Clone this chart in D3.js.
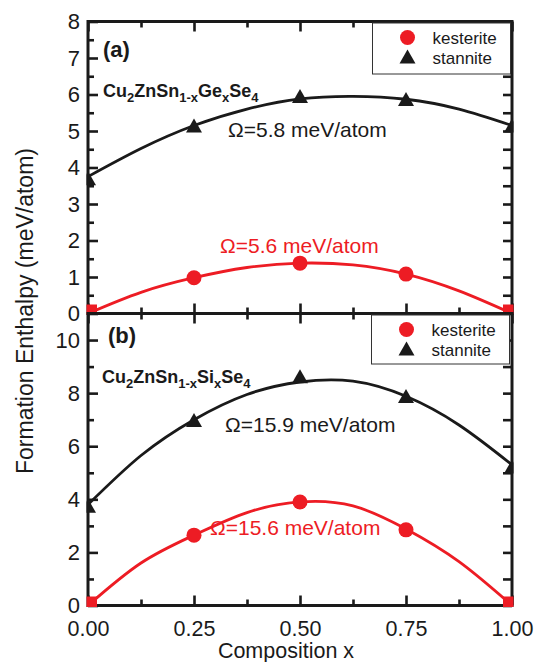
<!DOCTYPE html>
<html><head><meta charset="utf-8">
<script src="https://cdn.jsdelivr.net/npm/d3@7"></script>
<style>
html,body{margin:0;padding:0;background:#fff;}
svg{display:block;font-family:"Liberation Sans",Arial,Helvetica,sans-serif;}
</style></head>
<body>
<svg id="chart" width="542" height="662"></svg>
<script>
// ---- data ----
const compX = [0, 0.25, 0.5, 0.75, 1];
const geKesterite = [0, 0.98, 1.38, 1.08, 0];
const geStannite = [3.68, 5.12, 5.93, 5.85, 5.12];
const siKesterite = [0, 2.65, 3.9, 2.85, 0];
const siStannite = [3.72, 6.95, 8.6, 7.85, 5.2];

const fitX = [0, 0.125, 0.25, 0.375, 0.5, 0.625, 0.75, 0.875, 1];
const geKesteriteFit = [0, 0.58, 0.98, 1.26, 1.38, 1.33, 1.08, 0.62, 0];
const geStanniteFit = [3.75, 4.52, 5.15, 5.6, 5.88, 5.95, 5.87, 5.6, 5.15];
const siKesteriteFit = [0, 1.6, 2.65, 3.5, 3.9, 3.75, 2.88, 1.65, 0];
const siStanniteFit = [3.8, 5.65, 7.0, 7.95, 8.42, 8.45, 7.88, 6.8, 5.3];

const xMajorTicks = [0, 0.25, 0.5, 0.75, 1];
const xTickLabels = ["0.00", "0.25", "0.50", "0.75", "1.00"];
const xMinorTicks = [0.125, 0.375, 0.625, 0.875];
const topYMajor = [0, 1, 2, 3, 4, 5, 6, 7, 8];
const topYMinor = [0.5, 1.5, 2.5, 3.5, 4.5, 5.5, 6.5, 7.5];
const botYMajor = [0, 2, 4, 6, 8, 10];
const botYMinor = [1, 3, 5, 7, 9];

const seriesNames = ["kesterite", "stannite"];
const omegaGe = ["Ω=5.6 meV/atom", "Ω=5.8 meV/atom"];
const omegaSi = ["Ω=15.6 meV/atom", "Ω=15.9 meV/atom"];

// ---- layout ----
const RED = "#ed1c24", BLK = "#1a1a1a";
const svg = d3.select("#chart");
const x = d3.scaleLinear().domain([0, 1]).range([88, 512]);
const yTop = d3.scaleLinear().domain([0, 8]).range([313.5, 21.5]);
const yBot = d3.scaleLinear().domain([0, 11]).range([605.5, 313.5]);

const triPath = "M0,-8L8,6L-8,6Z";

function panel(id, y, kes, sta, kesFit, staFit, yMajor, yMinor, showX, omegas, omegaPos, formula, formulaPos, tag, tagPos, legendBox) {
  const g = svg.append("g");
  const [y0, y1] = y.range();
  const clipId = "clip" + id;
  svg.append("clipPath").attr("id", clipId).append("rect")
    .attr("x", x(0) - 1.5).attr("y", y1 - 1.5).attr("width", x(1) - x(0) + 3).attr("height", y0 - y1 + 3);

  // axes
  const tickStyle = sel => {
    sel.select(".domain").remove();
    sel.selectAll(".tick line").attr("stroke", BLK).attr("stroke-width", 2.6);
    sel.selectAll(".tick text").attr("fill", BLK).attr("font-family", '"Liberation Sans",Arial,sans-serif');
  };
  g.append("g").attr("transform", `translate(${x(0)},0)`)
    .call(d3.axisLeft(y).tickValues(yMajor).tickSize(-10).tickPadding(8).tickFormat(d3.format("d")))
    .call(tickStyle).selectAll(".tick text").attr("font-size", 22);
  g.append("g").attr("transform", `translate(${x(0)},0)`)
    .call(d3.axisLeft(y).tickValues(yMinor).tickSize(-6).tickFormat(""))
    .call(tickStyle);
  g.append("g").attr("transform", `translate(${x(1)},0)`)
    .call(d3.axisRight(y).tickValues(yMajor).tickSize(-9).tickFormat(""))
    .call(tickStyle);
  g.append("g").attr("transform", `translate(${x(1)},0)`)
    .call(d3.axisRight(y).tickValues(yMinor).tickSize(-9).tickFormat(""))
    .call(tickStyle);
  g.append("g").attr("transform", `translate(0,${y1})`)
    .call(d3.axisTop(x).tickValues(xMajorTicks).tickSize(-10).tickFormat(""))
    .call(tickStyle);
  g.append("g").attr("transform", `translate(0,${y1})`)
    .call(d3.axisTop(x).tickValues(xMinorTicks).tickSize(-6).tickFormat(""))
    .call(tickStyle);
  const bx = g.append("g").attr("transform", `translate(0,${y0})`)
    .call(d3.axisBottom(x).tickValues(xMajorTicks).tickSize(-10).tickPadding(15)
      .tickFormat((d, i) => showX ? xTickLabels[i] : ""))
    .call(tickStyle);
  bx.selectAll(".tick text").attr("font-size", 21.5);
  g.append("g").attr("transform", `translate(0,${y0})`)
    .call(d3.axisBottom(x).tickValues(xMinorTicks).tickSize(-6).tickFormat(""))
    .call(tickStyle);

  // frame
  g.append("rect").attr("x", x(0)).attr("y", y1).attr("width", x(1) - x(0)).attr("height", y0 - y1)
    .attr("fill", "none").attr("stroke", BLK).attr("stroke-width", 3);

  // curves and markers (over the frame, clipped to its outer edge)
  const plot = g.append("g").attr("clip-path", `url(#${clipId})`);
  const line = d3.line().x(d => x(d[0])).y(d => y(d[1])).curve(d3.curveNatural);
  plot.append("path").datum(fitX.map((v, i) => [v, staFit[i]]))
    .attr("d", line).attr("fill", "none").attr("stroke", BLK).attr("stroke-width", 2.8);
  plot.append("path").datum(fitX.map((v, i) => [v, kesFit[i]]))
    .attr("d", line).attr("fill", "none").attr("stroke", RED).attr("stroke-width", 2.8);

  plot.selectAll(".tri").data(compX.map((v, i) => [v, sta[i]])).join("path")
    .attr("d", triPath).attr("fill", BLK)
    .attr("transform", d => `translate(${x(d[0])},${y(d[1])})`);
  plot.selectAll(".kes").data(compX.map((v, i) => [v, kes[i]])).join(enter => enter.append(d => {
      const end = d[0] === 0 || d[0] === 1;
      return document.createElementNS("http://www.w3.org/2000/svg", end ? "rect" : "circle");
    }))
    .each(function(d) {
      const s = d3.select(this);
      if (this.tagName === "rect") {
        s.attr("x", x(d[0]) - 9).attr("y", y(d[1]) - 9).attr("width", 18).attr("height", 18);
      } else {
        s.attr("cx", x(d[0])).attr("cy", y(d[1])).attr("r", 7.5);
      }
    })
    .attr("fill", RED);

  // legend
  const lg = g.append("g");
  lg.append("rect").attr("x", legendBox[0]).attr("y", legendBox[1]).attr("width", legendBox[2]).attr("height", legendBox[3])
    .attr("fill", "#fff").attr("stroke", "#333").attr("stroke-width", 1);
  const lx = legendBox[0] + 35;
  const ly = legendBox[1] + 14.5;
  lg.append("circle").attr("cx", lx).attr("cy", ly).attr("r", 7.5).attr("fill", RED);
  lg.append("path").attr("d", triPath).attr("fill", BLK).attr("transform", `translate(${lx},${ly + 20})`);
  seriesNames.forEach((n, i) => {
    lg.append("text").attr("x", lx + 25).attr("y", ly + 6 + 20 * i).attr("font-size", 17).attr("fill", BLK).text(n);
  });

  // omega labels
  g.append("text").attr("x", omegaPos[0][0]).attr("y", omegaPos[0][1]).attr("font-size", 21).attr("fill", RED).text(omegas[0]);
  g.append("text").attr("x", omegaPos[1][0]).attr("y", omegaPos[1][1]).attr("font-size", 21).attr("fill", BLK).text(omegas[1]);

  // formula
  const ft = g.append("text").attr("x", formulaPos[0]).attr("y", formulaPos[1])
    .attr("font-size", 18).attr("font-weight", "bold").attr("fill", BLK);
  let sub = false;
  formula.forEach(([t, isSub]) => {
    const ts = ft.append("tspan").text(t);
    if (isSub && !sub) { ts.attr("dy", 5).attr("font-size", 13); }
    else if (isSub) { ts.attr("font-size", 13); }
    else if (!isSub && sub) { ts.attr("dy", -5); }
    sub = isSub;
  });

  g.append("text").attr("x", tagPos[0]).attr("y", tagPos[1]).attr("font-size", 22).attr("font-weight", "bold")
    .attr("fill", BLK).text(tag);
}

panel("top", yTop, geKesterite, geStannite, geKesteriteFit, geStanniteFit, topYMajor, topYMinor, false,
  omegaGe, [[220, 253], [228, 137]],
  [["Cu", false], ["2", true], ["ZnSn", false], ["1-x", true], ["Ge", false], ["x", true], ["Se", false], ["4", true]],
  [103, 97], "(a)", [103, 57], [372.5, 23, 138, 51]);

panel("bot", yBot, siKesterite, siStannite, siKesteriteFit, siStanniteFit, botYMajor, botYMinor, true,
  omegaSi, [[210, 535], [225, 432]],
  [["Cu", false], ["2", true], ["ZnSn", false], ["1-x", true], ["Si", false], ["x", true], ["Se", false], ["4", true]],
  [102, 383], "(b)", [108, 343], [371.5, 315, 138, 49]);

// axis titles
svg.append("text").attr("x", 286).attr("y", 657.5).attr("text-anchor", "middle").attr("font-size", 21.5).attr("fill", BLK)
  .text("Composition x");
svg.append("text").attr("transform", "translate(33,311) rotate(-90)").attr("text-anchor", "middle")
  .attr("font-size", 23).attr("fill", BLK).text("Formation Enthalpy (meV/atom)");
</script>
</body></html>
